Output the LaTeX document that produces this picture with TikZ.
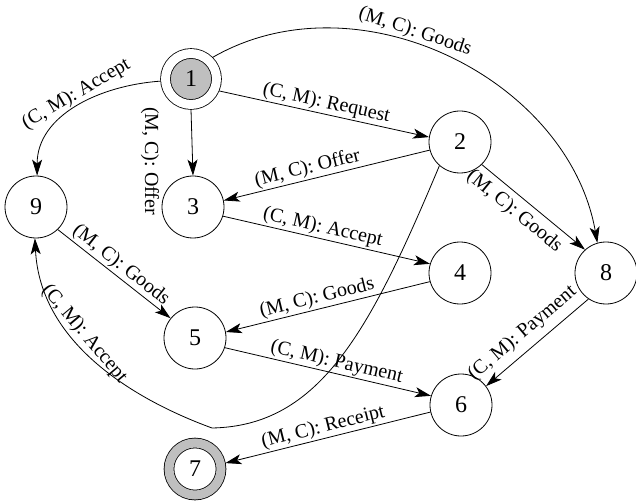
\documentclass[tikz,border=0pt]{standalone}
\usepackage{fontspec}
\setmainfont{Liberation Serif}
\usetikzlibrary{arrows.meta}

\begin{document}
\begin{tikzpicture}[x=1pt,y=1pt,
    state/.style={circle, draw, line width=0.8pt, minimum size=62pt, inner sep=0pt, font=\fontsize{24}{26}\selectfont},
    startstate/.style={state, minimum size=51pt, fill=black!25, double=white, double distance=9pt, outer sep=5pt},
    endstate/.style={state, minimum size=52pt, fill=white, double=black!25, double distance=9pt, outer sep=5pt},
    link/.style={-{Stealth[length=16pt,width=10pt,inset=4pt]}, line width=0.8pt},
    lbl/.style={font=\fontsize{20}{22}\selectfont, inner sep=1.5pt}]
    \useasboundingbox (0,0) rectangle (636,501);
    % states
    \node[startstate] (n1) at (191,422) {1};
    \node[state] (n2) at (460,359) {2};
    \node[state] (n3) at (193,294) {3};
    \node[state] (n9) at (36,294) {9};
    \node[state] (n4) at (460,228) {4};
    \node[state] (n8) at (606,228) {8};
    \node[state] (n5) at (195,163) {5};
    \node[state] (n6) at (461,96) {6};
    \node[endstate] (n7) at (195,32) {7};
    \coordinate (dip) at (212,73);
    % messages
    \draw[link] (n1.-23) -- node[lbl, sloped, above] {(C, M): Request} (n2.171);
    \draw[link] (n1.south) -- (n3.north);
    \node[lbl, rotate=-90] (offerlbl) at (150,340) {(M, C): Offer};
    \draw[link] (n1.184) to[out=184, in=90] node[lbl, sloped, above, pos=0.46] {(C, M): Accept} (n9.88);
    \draw[link] (n1.45) to[out=30, in=100] node[lbl, sloped, above, pos=0.42] {(M, C): Goods} (n8.106);
    \draw[link] (n2.195) -- node[lbl, sloped, above, pos=0.58] {(M, C): Offer} (n3.12);
    \draw[link] (n2.-46) -- node[lbl, sloped, below, pos=0.41, inner sep=6pt] {(M, C): Goods} (n8.132);
    \draw[link] (n2.229) .. controls (370,170) and (320,75) .. (dip)
        .. controls (130,103) and (40,160) .. node[lbl, sloped, above, pos=0.6] {(C, M): Accept} (n9.268);
    \draw[link] (n3.-17) -- node[lbl, sloped, above, pos=0.47] {(C, M): Accept} (n4.163);
    \draw[link] (n4.196) -- node[lbl, sloped, above, pos=0.54] {(M, C): Goods} (n5.11);
    \draw[link] (n9.-46) -- node[lbl, sloped, above] {(M, C): Goods} (n5.141);
    \draw[link] (n5.-18) -- node[lbl, sloped, above, pos=0.53] {(C, M): Payment} (n6.163);
    \draw[link] (n8.236) -- node[lbl, sloped, above, pos=0.54, inner sep=7pt] {(C, M): Payment} (n6.37);
    \draw[link] (n6.193) -- node[lbl, sloped, above, pos=0.51] {(M, C): Receipt} (n7.11);
\end{tikzpicture}
\end{document}
